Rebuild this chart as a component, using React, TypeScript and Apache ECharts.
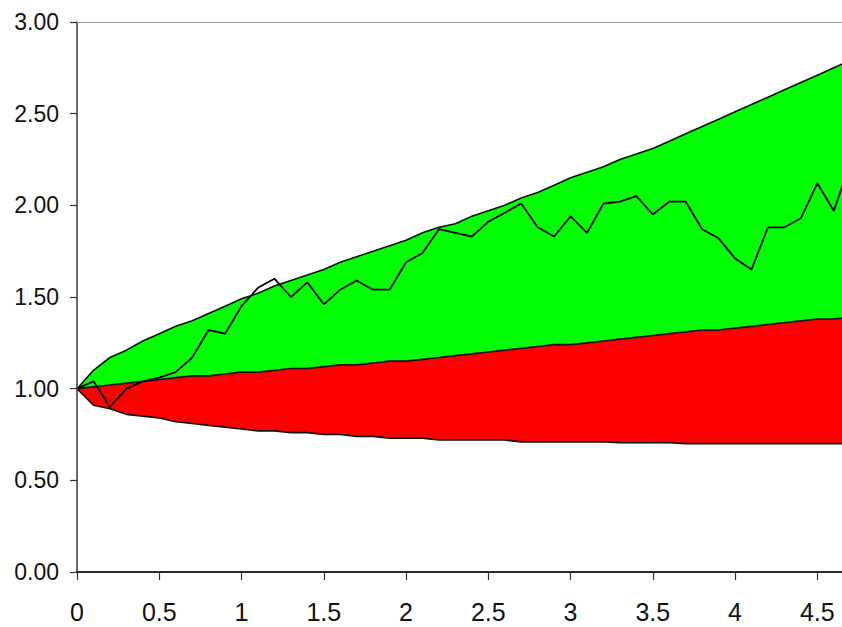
import React, { useEffect, useRef } from "react";
import * as echarts from "echarts";

// Time steps (years)
const steps = [
  0, 0.1, 0.2, 0.3, 0.4, 0.5, 0.6, 0.7, 0.8, 0.9,
  1.0, 1.1, 1.2, 1.3, 1.4, 1.5, 1.6, 1.7, 1.8, 1.9,
  2.0, 2.1, 2.2, 2.3, 2.4, 2.5, 2.6, 2.7, 2.8, 2.9,
  3.0, 3.1, 3.2, 3.3, 3.4, 3.5, 3.6, 3.7, 3.8, 3.9,
  4.0, 4.1, 4.2, 4.3, 4.4, 4.5, 4.6, 4.7,
];

// Upper band edge
const upperBound = [
  1.0, 1.1, 1.17, 1.21, 1.26, 1.3, 1.34, 1.37, 1.41, 1.45,
  1.49, 1.52, 1.56, 1.59, 1.62, 1.65, 1.69, 1.72, 1.75, 1.78,
  1.81, 1.85, 1.88, 1.9, 1.94, 1.97, 2.0, 2.04, 2.07, 2.11,
  2.15, 2.18, 2.21, 2.25, 2.28, 2.31, 2.35, 2.39, 2.43, 2.47,
  2.51, 2.55, 2.59, 2.63, 2.67, 2.71, 2.75, 2.79,
];

// Median path (green / red boundary)
const median = [
  1.0, 1.01, 1.02, 1.03, 1.04, 1.05, 1.06, 1.07, 1.07, 1.08,
  1.09, 1.09, 1.1, 1.11, 1.11, 1.12, 1.13, 1.13, 1.14, 1.15,
  1.15, 1.16, 1.17, 1.18, 1.19, 1.2, 1.21, 1.22, 1.23, 1.24,
  1.24, 1.25, 1.26, 1.27, 1.28, 1.29, 1.3, 1.31, 1.32, 1.32,
  1.33, 1.34, 1.35, 1.36, 1.37, 1.38, 1.38, 1.39,
];

// Lower band edge
const lowerBound = [
  1.0, 0.91, 0.89, 0.86, 0.85, 0.84, 0.82, 0.81, 0.8, 0.79,
  0.78, 0.77, 0.77, 0.76, 0.76, 0.75, 0.75, 0.74, 0.74, 0.73,
  0.73, 0.73, 0.72, 0.72, 0.72, 0.72, 0.72, 0.71, 0.71, 0.71,
  0.71, 0.71, 0.71, 0.705, 0.705, 0.705, 0.705, 0.7, 0.7, 0.7,
  0.7, 0.7, 0.7, 0.7, 0.7, 0.7, 0.7, 0.7,
];

// Simulated price path
const pricePath = [
  1.0, 1.04, 0.9, 1.0, 1.04, 1.06, 1.09, 1.17, 1.32, 1.3,
  1.45, 1.55, 1.6, 1.5, 1.58, 1.46, 1.54, 1.59, 1.54, 1.54,
  1.69, 1.74, 1.87, 1.85, 1.83, 1.91, 1.96, 2.01, 1.88, 1.83,
  1.94, 1.85, 2.01, 2.02, 2.05, 1.95, 2.02, 2.02, 1.87, 1.82,
  1.71, 1.65, 1.88, 1.88, 1.93, 2.12, 1.97, 2.23,
];

const xTicks = [0, 0.5, 1, 1.5, 2, 2.5, 3, 3.5, 4, 4.5];
const xMax = 4.65;
const yTicks = [0, 0.5, 1, 1.5, 2, 2.5, 3];

const labelFont = "'Liberation Sans', Arial, sans-serif";

export default function App() {
  const ref = useRef<HTMLDivElement>(null);

  useEffect(() => {
    if (!ref.current) return;
    const chart = echarts.init(ref.current, null, { renderer: "svg" });

    const toPoints = (vals: number[]) => steps.map((t, i) => [t, vals[i]]);
    const edge = { color: "#111", width: 1.6 };

    // Each band edge fills down to the axis; later layers paint over earlier ones,
    // leaving green between upper and median, red between median and lower.
    const bandLayer = (name: string, vals: number[], fill: string, z: number) => ({
      type: "line",
      name,
      data: toPoints(vals),
      symbol: "none",
      lineStyle: edge,
      areaStyle: { color: fill, opacity: 1, origin: "start" },
      z,
    });

    chart.setOption({
      animation: false,
      backgroundColor: "#fff",
      grid: { left: 77, right: 0, top: 22, bottom: 55 },
      xAxis: [
        {
          type: "value",
          min: 0,
          max: xMax,
          interval: 0.5,
          z: 20,
          axisLine: { show: true, onZero: false, lineStyle: { color: "#2a2a2a", width: 2.2 } },
          axisTick: {
            show: true,
            length: 8,
            customValues: xTicks,
            lineStyle: { color: "#333", width: 1.2 },
          },
          axisLabel: {
            customValues: xTicks,
            margin: 27,
            fontSize: 25,
            fontFamily: labelFont,
            color: "#111",
            formatter: (v: number) => String(v),
          },
          splitLine: { show: false },
        },
        {
          type: "value",
          position: "top",
          min: 0,
          max: xMax,
          z: 20,
          axisLine: { show: true, onZero: false, lineStyle: { color: "#999", width: 1.2 } },
          axisTick: { show: false },
          axisLabel: { show: false },
          splitLine: { show: false },
        },
      ],
      yAxis: {
        type: "value",
        min: 0,
        max: 3,
        interval: 0.5,
        z: 20,
        axisLine: { show: true, lineStyle: { color: "#444", width: 1.6 } },
        axisTick: {
          show: true,
          length: 7,
          customValues: yTicks,
          lineStyle: { color: "#333", width: 1.2 },
        },
        axisLabel: {
          customValues: yTicks,
          margin: 18,
          fontSize: 23,
          fontFamily: labelFont,
          color: "#111",
          formatter: (v: number) => v.toFixed(2),
        },
        splitLine: { show: false },
      },
      series: [
        bandLayer("upper", upperBound, "#00ff00", 2),
        bandLayer("median", median, "#ff0000", 3),
        bandLayer("lower", lowerBound, "#ffffff", 4),
        {
          type: "line",
          name: "path",
          data: toPoints(pricePath),
          symbol: "none",
          lineStyle: { color: "#000", width: 1.8 },
          z: 6,
        },
      ],
    });

    return () => chart.dispose();
  }, []);

  return (
    <div
      ref={ref}
      style={{ position: "absolute", left: 0, top: 0, width: 842, height: 627 }}
    />
  );
}
